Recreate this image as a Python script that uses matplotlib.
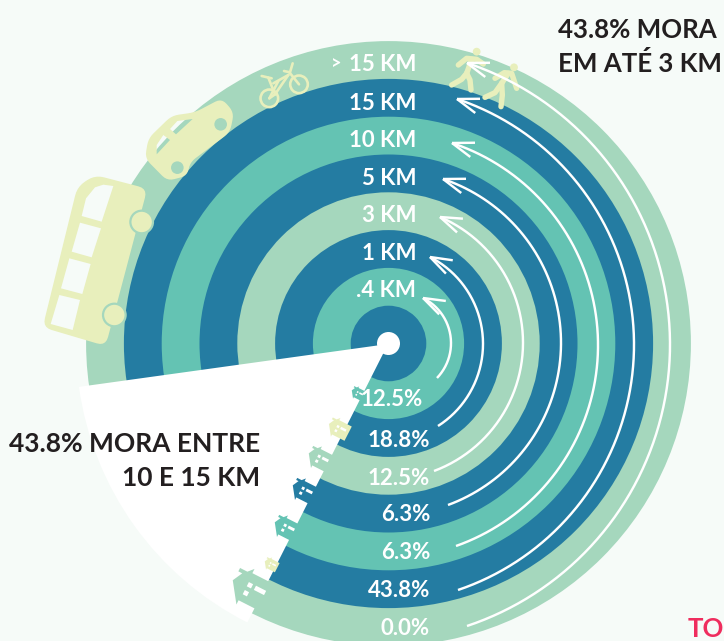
import numpy as np
import matplotlib
matplotlib.use("Agg")
import matplotlib.pyplot as plt
from matplotlib.patches import Circle, Wedge, Polygon, PathPatch
from matplotlib.path import Path
from matplotlib.transforms import Affine2D

# ---- data, inner ring to outer ring ----
distance_labels = [".4 KM", "1 KM", "3 KM", "5 KM", "10 KM", "15 KM", "15 KM"]
share_values = [12.5, 18.8, 12.5, 6.3, 6.3, 43.8, 0.0]
callout_top = ["43.8% MORA", "EM ATÉ 3 KM"]
callout_left = ["43.8% MORA ENTRE", "10 E 15 KM"]
footer_text = "TO"

DARK, TEAL, LIGHT, YELLOW = "#247CA2", "#64C3B3", "#A5D7BD", "#E8EFBC"
BG, INK, PINK = "#F6FBF8", "#231F20", "#EF2D5E"
ring_colors = [DARK, TEAL, DARK, LIGHT, DARK, TEAL, DARK, LIGHT]
house_colors = [TEAL, YELLOW, LIGHT, DARK, TEAL, YELLOW, LIGHT]

W, H = 724, 641
CX, CY = 388.5, 343.5
STEP = 37.8

plt.rcParams["font.family"] = ["Lato", "DejaVu Sans"]
fig = plt.figure(figsize=(W / 100, H / 100), dpi=100, facecolor=BG)
ax = fig.add_axes([0, 0, 1, 1])
ax.set_xlim(0, W)
ax.set_ylim(H, 0)
ax.axis("off")

# rings
for i in range(len(ring_colors), 0, -1):
    ax.add_patch(Circle((CX, CY), STEP * i, fc=ring_colors[i - 1], ec="none", zorder=1))

# white slice
ax.add_patch(Wedge((388, 344), 312, 116.8, 172.1, fc="white", ec="none", zorder=2))
ax.add_patch(Circle((CX, CY), 11.5, fc="white", ec="none", zorder=6))


# houses
def add_house(cx, cy, s, color):
    tr = Affine2D().scale(s).rotate_deg(-63).translate(cx, cy) + ax.transData
    body = [(0, -0.9), (0.55, -0.62), (0.55, -0.85), (0.75, -0.85), (0.75, -0.42),
            (1.05, -0.15), (0.8, -0.15), (0.8, 1.25), (-0.8, 1.25), (-0.8, -0.15), (-1.05, -0.15)]
    ax.add_patch(Polygon(body, closed=True, fc=color, ec="none", transform=tr, zorder=3))
    for (x, y, w, h) in [(-0.42, -0.1, 0.25, 0.25), (0.05, -0.1, 0.25, 0.25), (0.05, 0.32, 0.25, 0.6)]:
        ax.add_patch(Polygon([(x, y), (x + w, y), (x + w, y + h), (x, y + h)],
                             closed=True, fc="white", ec="none", transform=tr, zorder=4))


house_places = [(357, 393, 6.5), (337, 428, 10), (318, 458, 11.5), (302, 490, 11.5),
                (284, 527, 11.5), (270, 564, 6.5), (248, 588, 19)]
for (hx, hy, hs), hc in zip(house_places, house_colors):
    add_house(hx, hy, hs, hc)


def z(points, ox, oy):
    return [(ox + p / 3, oy + q / 3) for p, q in points]


def holed(outer, holes, color, zorder=3):
    verts, codes = [], []
    for k, poly in enumerate([outer] + holes):
        arr = np.array(poly, float)
        x, y = arr[:, 0], arr[:, 1]
        area = np.sum(x * np.roll(y, -1) - np.roll(x, -1) * y)
        want_pos = k == 0
        if (area > 0) != want_pos:
            arr = arr[::-1]
        verts += list(map(tuple, arr)) + [tuple(arr[0])]
        codes += [Path.MOVETO] + [Path.LINETO] * (len(arr) - 1) + [Path.CLOSEPOLY]
    ax.add_patch(PathPatch(Path(verts, codes), fc=color, ec="none", zorder=zorder))


def rounded(pts, rad=24, n=6):
    pts = np.array(pts, float)
    out = []
    m = len(pts)
    for i in range(m):
        a, b, c = pts[i - 1], pts[i], pts[(i + 1) % m]
        d1 = (a - b) / np.linalg.norm(a - b)
        d2 = (c - b) / np.linalg.norm(c - b)
        rr = min(rad, np.linalg.norm(a - b) / 2, np.linalg.norm(c - b) / 2)
        for t in np.linspace(0, 1, n):
            p1 = b + d1 * rr
            p2 = b + d2 * rr
            out.append(tuple((1 - t) ** 2 * p1 + 2 * t * (1 - t) * b + t ** 2 * p2))
    return out


# bus
bus_out = rounded([(285, 225), (442, 266), (317, 738), (128, 682), (232, 260)], rad=28)
bus_win = [[(340, 258), (305, 365), (245, 348), (258, 295), (285, 262), (310, 254)],
           [(303, 385), (275, 472), (215, 455), (240, 368)],
           [(272, 492), (247, 582), (183, 565), (208, 475)],
           [(240, 600), (218, 690), (152, 672), (178, 585)]]
holed(z(bus_out, 0, 100), [z(w, 0, 100) for w in bus_win], YELLOW)
for zx, zy in [(425, 366), (343, 645)]:
    ax.add_patch(Circle((zx / 3, 100 + zy / 3), 11.3, fc=YELLOW, ec=LIGHT, lw=1.6, zorder=4))

# car
car_out = rounded([(245, 130), (282, 172), (270, 232), (150, 322), (142, 362), (82, 378),
                   (15, 310), (25, 250), (95, 182), (165, 172)], rad=22)
car_win = [[(90, 222), (112, 198), (158, 192), (108, 238)], [(50, 270), (70, 240), (90, 255), (50, 298)]]
holed(z(car_out, 140, 55), [z(w, 140, 55) for w in car_win], YELLOW)
for zx, zy in [(242, 208), (112, 338)]:
    ax.add_patch(Circle((140 + zx / 3, 55 + zy / 3), 6.3, fc=LIGHT, ec="none", zorder=4))


# line icons
def stroke(segments, ox, oy, lw):
    for seg in segments:
        pts = np.array(z(seg, ox, oy))
        ax.plot(pts[:, 0], pts[:, 1], color=YELLOW, lw=lw, solid_capstyle="round",
                solid_joinstyle="round", zorder=3)


for zx, zy in [(388, 130), (477, 88)]:
    ax.add_patch(Circle((140 + zx / 3, 55 + zy / 3), 8.8, fc="none", ec=YELLOW, lw=1.9, zorder=3))
stroke([[(365, 63), (395, 70)], [(385, 68), (405, 118)], [(400, 85), (445, 60)], [(445, 60), (405, 118)],
        [(405, 118), (388, 130)], [(388, 130), (415, 78)], [(432, 48), (450, 52), (458, 25)],
        [(448, 52), (477, 88)]], 140, 55, 1.9)

stroke([[(65, 100), (80, 58)], [(40, 75), (65, 55), (95, 58), (115, 72)],
        [(65, 100), (50, 118), (20, 135)], [(65, 100), (75, 120), (78, 150)]], 445, 40, 3.9)
stroke([[(170, 130), (190, 100)], [(150, 115), (178, 98), (200, 100), (215, 145)],
        [(170, 130), (150, 158), (120, 172)], [(170, 130), (172, 165), (168, 200)]], 445, 40, 3.9)
for zx, zy in [(95, 35), (207, 82)]:
    ax.add_patch(Circle((445 + zx / 3, 40 + zy / 3), 3.9, fc=YELLOW, ec="none", zorder=3))

# arrows: start point, rightmost x, tip
arrows = [((437, 378), 451, (423, 298)), ((438, 426), 483, (430, 257)), ((434, 471), 523, (440, 217)),
          ((448, 505), 561, (443, 179)), ((456, 546), 598, (452, 143)), ((458, 590), 634, (457, 99)),
          ((467, 626), 670, (467, 63))]
LW = 1.75
for st, rx, tip in arrows:
    a = np.array(st, float)
    b = np.array((rx, 343.0))
    c = np.array(tip, float)
    A = 2 * np.array([b - a, c - a])
    rhs = np.array([b @ b - a @ a, c @ c - a @ a])
    cen = np.linalg.solve(A, rhs)
    r = np.linalg.norm(a - cen)
    a0 = np.arctan2(*(a - cen)[::-1])
    a1 = np.arctan2(*(c - cen)[::-1])
    th = np.linspace(a0, a1, 160)
    ax.plot(cen[0] + r * np.cos(th), cen[1] + r * np.sin(th), color="white", lw=LW,
            solid_capstyle="butt", zorder=5)
    back = np.arctan2(np.cos(a1), -np.sin(a1))  # direction back along the curve
    for sgn in (-1, 1):
        ang = back + sgn * np.radians(19)
        ax.plot([tip[0], tip[0] + 23 * np.cos(ang)], [tip[1], tip[1] + 23 * np.sin(ang)],
                color="white", lw=LW, solid_capstyle="butt", zorder=5)

# ring labels
FS = 16.0
km_y = [288, 251, 213, 176, 138, 101]
for lab, y in zip(distance_labels[:6], km_y):
    ax.text(416, y + 9, lab, color="white", fontsize=FS, fontweight="bold", ha="right", va="baseline", zorder=7)
ax.text(416, 62 + 9, distance_labels[6], color="white", fontsize=FS, fontweight="bold", ha="right", va="baseline", zorder=7)
ax.text(336, 63.5, ">", color="white", fontsize=13, fontweight="bold", ha="center", va="center", zorder=7)

pct_y = [397, 438, 476, 512, 550, 588, 626]
pct_x = [423, 430, 430, 430, 430, 430, 430]
for v, y, x in zip(share_values, pct_y, pct_x):
    ax.text(x, y + 9, f"{v:.1f}%", color="white", fontsize=FS, fontweight="bold", ha="right", va="baseline", zorder=7)

# callouts
TS = 18.6
ax.text(558, 38, callout_top[0], color=INK, fontsize=TS, fontweight="bold", ha="left", va="baseline", zorder=7)
ax.text(558, 72, callout_top[1], color=INK, fontsize=TS, fontweight="bold", ha="left", va="baseline", zorder=7)
ax.text(260, 452, callout_left[0], color=INK, fontsize=19.0, fontweight="bold", ha="right", va="baseline", zorder=7)
ax.text(260, 486, callout_left[1], color=INK, fontsize=19.0, fontweight="bold", ha="right", va="baseline", zorder=7)
ax.text(688, 637, footer_text, color=PINK, fontsize=TS, fontweight="bold", ha="left", va="baseline", zorder=7)

fig.savefig("out.png", dpi=100, facecolor=BG)
